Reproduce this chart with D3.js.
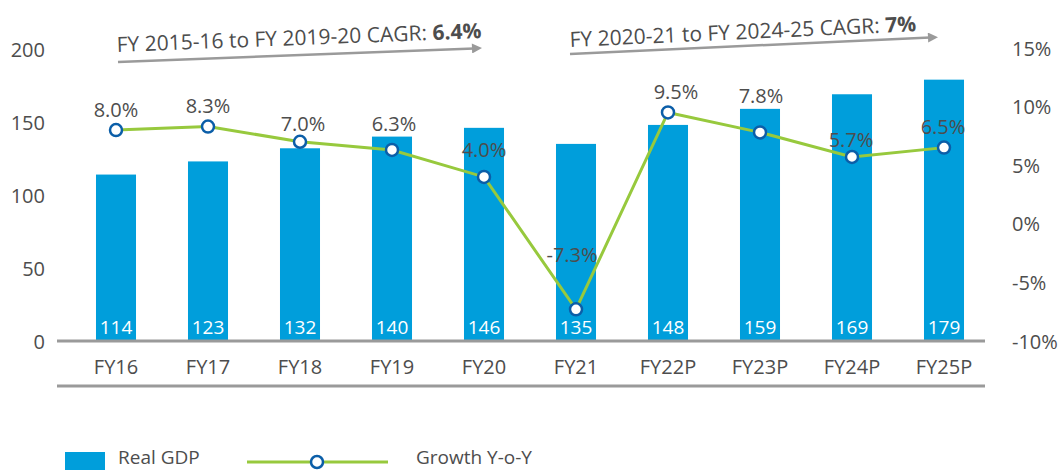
<!DOCTYPE html>
<html>
<head>
<meta charset="utf-8">
<script src="https://d3js.org/d3.v7.min.js"></script>
<style>
  body { margin: 0; background: #fff; }
  svg text { font-family: "Open Sans", "Noto Sans", sans-serif; fill: #4d4d4d; }
</style>
</head>
<body>
<svg width="1064" height="470"></svg>
<script>
// data
var years = ["FY16", "FY17", "FY18", "FY19", "FY20", "FY21", "FY22P", "FY23P", "FY24P", "FY25P"];
var realGdp = [114, 123, 132, 140, 146, 135, 148, 159, 169, 179];
var growth = [8.0, 8.3, 7.0, 6.3, 4.0, -7.3, 9.5, 7.8, 5.7, 6.5];
var leftTicks = [0, 50, 100, 150, 200];
var rightTicks = [-10, -5, 0, 5, 10, 15];
var cagrNotes = [
  { text: "FY 2015-16 to FY 2019-20 CAGR: ", bold: "6.4%" },
  { text: "FY 2020-21 to FY 2024-25 CAGR: ", bold: "7%" }
];

var blue = "#009edb", green = "#97c93d", dark = "#0b5ea8", grey = "#9a9a9a";

var svg = d3.select("svg");

var x = d3.scaleBand().domain(years).range([70, 990]).paddingInner(0.565).paddingOuter(0.2825);
var y = d3.scaleLinear().domain([0, 200]).range([341, 49]);
var y2 = d3.scaleLinear().domain([-10, 15]).range([341, 48]);

// left axis
var yAx = d3.axisLeft(y).tickValues(leftTicks).tickSize(0).tickPadding(0);
svg.append("g").attr("transform", "translate(45,0)").call(yAx)
  .call(g => g.select(".domain").remove())
  .selectAll("text").style("font-size", "20px").attr("fill", "#4d4d4d").attr("dy", "0.35em");

// right axis
var y2Ax = d3.axisRight(y2).tickValues(rightTicks).tickSize(0).tickPadding(0).tickFormat(d => d + "%");
svg.append("g").attr("transform", "translate(1012,0)").call(y2Ax)
  .call(g => g.select(".domain").remove())
  .selectAll("text").style("font-size", "20px").attr("fill", "#4d4d4d").attr("dy", "0.35em");

// bars
svg.selectAll(".bar").data(realGdp).enter().append("rect")
  .attr("class", "bar")
  .attr("x", (d, i) => x(years[i]))
  .attr("width", x.bandwidth())
  .attr("y", d => y(d))
  .attr("height", d => y(0) - y(d))
  .attr("fill", blue);

svg.selectAll(".barlab").data(realGdp).enter().append("text")
  .attr("x", (d, i) => x(years[i]) + x.bandwidth() / 2)
  .attr("y", y(0) - 7)
  .attr("text-anchor", "middle")
  .style("font-size", "19px")
  .style("fill", "#fff")
  .text(d => d);

// x axis lines + labels
svg.append("line").attr("x1", 57).attr("x2", 985).attr("y1", y(0)).attr("y2", y(0))
  .attr("stroke", grey).attr("stroke-width", 3);
svg.append("line").attr("x1", 57).attr("x2", 985).attr("y1", 386).attr("y2", 386)
  .attr("stroke", grey).attr("stroke-width", 3);

svg.selectAll(".cat").data(years).enter().append("text")
  .attr("x", d => x(d) + x.bandwidth() / 2)
  .attr("y", 374)
  .attr("text-anchor", "middle")
  .style("font-size", "20px")
  .text(d => d);

// growth line
var cx = (d, i) => x(years[i]) + x.bandwidth() / 2;
var line = d3.line().x(cx).y(d => y2(d));
svg.append("path").datum(growth).attr("d", line)
  .attr("fill", "none").attr("stroke", green).attr("stroke-width", 3);

// label nudges relative to each point
var labNudge = [[0, -13], [0, -14], [3, -11], [2, -19], [0, -20], [-4, -47], [8, -13], [1, -29], [-1, -10], [-1, -14]];
svg.selectAll(".glab").data(growth).enter().append("text")
  .attr("x", (d, i) => cx(d, i) + labNudge[i][0])
  .attr("y", (d, i) => y2(d) + labNudge[i][1])
  .attr("text-anchor", "middle")
  .style("font-size", "20px")
  .text(d => d.toFixed(1) + "%");

svg.selectAll(".pt").data(growth).enter().append("circle")
  .attr("cx", cx)
  .attr("cy", d => y2(d))
  .attr("r", 6)
  .attr("fill", "#fff")
  .attr("stroke", dark)
  .attr("stroke-width", 2.5);

// CAGR arrows
var defs = svg.append("defs");
defs.append("marker").attr("id", "arr").attr("viewBox", "0 0 10 10")
  .attr("refX", 2).attr("refY", 5).attr("markerWidth", 6).attr("markerHeight", 4)
  .attr("markerUnits", "strokeWidth").attr("orient", "auto")
  .append("path").attr("d", "M0,0 L10,5 L0,10 Z").attr("fill", grey);

var arrows = [
  { x1: 118, y1: 62, x2: 474, y2: 48.4, tx: 117, ty: 52 },
  { x1: 570, y1: 54, x2: 930, y2: 37.5, tx: 570, ty: 47 }
];
arrows.forEach(function(a, i) {
  svg.append("line").attr("x1", a.x1).attr("y1", a.y1).attr("x2", a.x2).attr("y2", a.y2)
    .attr("stroke", grey).attr("stroke-width", 2.5).attr("marker-end", "url(#arr)");
  var ang = Math.atan2(a.y2 - a.y1, a.x2 - a.x1) * 180 / Math.PI;
  var t = svg.append("text")
    .attr("transform", "translate(" + a.tx + "," + a.ty + ") rotate(" + ang + ")")
    .style("font-size", "21px");
  t.append("tspan").text(cagrNotes[i].text);
  t.append("tspan").style("font-weight", "bold").text(cagrNotes[i].bold);
});

// legend
svg.append("rect").attr("x", 65).attr("y", 452).attr("width", 40).attr("height", 22).attr("fill", blue);
svg.append("text").attr("x", 118).attr("y", 464).style("font-size", "19px").text("Real GDP");
svg.append("line").attr("x1", 247).attr("x2", 388).attr("y1", 462).attr("y2", 462)
  .attr("stroke", green).attr("stroke-width", 3);
svg.append("circle").attr("cx", 317).attr("cy", 462).attr("r", 6)
  .attr("fill", "#fff").attr("stroke", dark).attr("stroke-width", 2.5);
svg.append("text").attr("x", 416).attr("y", 464).style("font-size", "19px").text("Growth Y-o-Y");
</script>
</body>
</html>
